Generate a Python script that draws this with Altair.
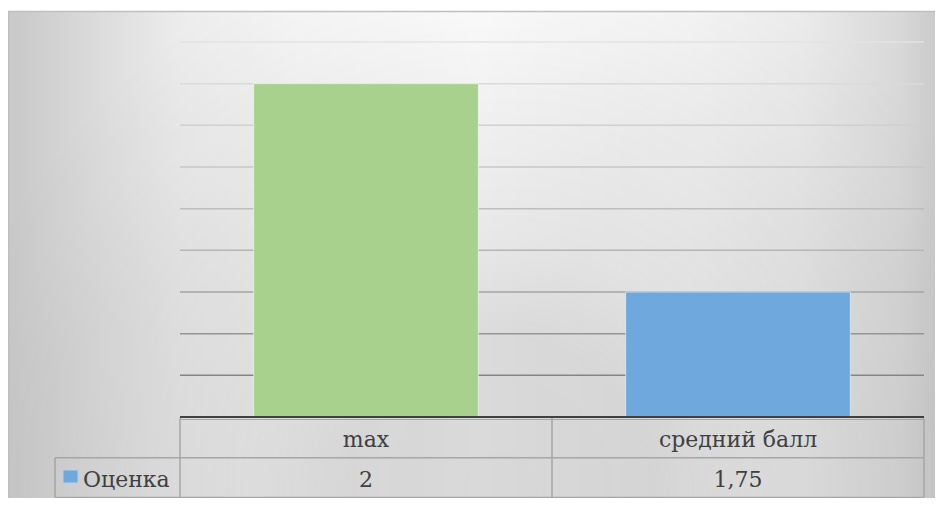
import altair as alt
import pandas as pd

# ---- data ----
CATEGORIES = ["max", "средний балл"]
VALUES = [2, 1.75]
SERIES = "Оценка"
BAR_COLORS = ["#a9d18e", "#6fa8dc"]
GRID_TICKS = [1.65, 1.7, 1.75, 1.8, 1.85, 1.9, 1.95, 2.0, 2.05]
Y_MIN, Y_MAX = 1.6, 2.05

W, H = 744, 375
FONT = "DejaVu Serif"
FS = 22
TXT = "#404040"
LINE = "#a6a6a6"

df = pd.DataFrame({"cat": CATEGORIES, "value": VALUES})
grid_df = pd.DataFrame({"tick": GRID_TICKS})
series_df = pd.DataFrame({"s": [SERIES]})
one = alt.Data(values=[{"k": 0}])

xscale = alt.Scale(domain=CATEGORIES, paddingInner=0.396, paddingOuter=0.198)
yscale = alt.Scale(domain=[Y_MIN, Y_MAX], zero=False, nice=False)

# ---- background (Excel-like gradient) ----
base_grad = {
    "gradient": "linear", "x1": 0, "y1": 0, "x2": 1, "y2": 0,
    "stops": [
        {"offset": 0.0, "color": "#c8c8c8"},
        {"offset": 0.098, "color": "#dcdcdc"},
        {"offset": 0.184, "color": "#ececec"},
        {"offset": 0.313, "color": "#f7f7f7"},
        {"offset": 0.505, "color": "#ffffff"},
        {"offset": 0.74, "color": "#f5f5f5"},
        {"offset": 0.847, "color": "#ebebeb"},
        {"offset": 0.954, "color": "#d8d8d8"},
        {"offset": 1.0, "color": "#c8c8c8"},
    ],
}
bg = alt.Chart(one).mark_rect(fill=base_grad, strokeWidth=0).encode(
    x=alt.value(-172), x2=alt.value(763), y=alt.value(-31), y2=alt.value(470)
)

over_grad = {
    "gradient": "radial",
    "x1": 0.526, "y1": 0.512, "r1": 0,
    "x2": 0.526, "y2": 0.512, "r2": 0.6,
    "stops": [
        {"offset": 0.0, "color": "rgba(0,0,0,0.15)"},
        {"offset": 0.27, "color": "rgba(0,0,0,0.14)"},
        {"offset": 0.45, "color": "rgba(0,0,0,0.09)"},
        {"offset": 0.71, "color": "rgba(0,0,0,0.05)"},
        {"offset": 0.875, "color": "rgba(0,0,0,0.02)"},
        {"offset": 1.0, "color": "rgba(0,0,0,0)"},
    ],
}
overlay = alt.Chart(one).mark_rect(fill=over_grad, strokeWidth=0).encode(
    x=alt.value(-172), x2=alt.value(763), y=alt.value(-31), y2=alt.value(904)
)

border_top = alt.Chart(one).mark_rule(color="#bfbfbf", strokeWidth=1.5).encode(
    x=alt.value(-172), x2=alt.value(763), y=alt.value(-30.5)
)
border_left = alt.Chart(one).mark_rule(color="#bfbfbf", strokeWidth=1.5).encode(
    x=alt.value(-171.5), y=alt.value(-31), y2=alt.value(470)
)

# ---- gridlines ----
grid = alt.Chart(grid_df).mark_rule(strokeWidth=1.5).encode(
    y=alt.Y("tick:Q", scale=yscale, axis=None),
    x=alt.value(0), x2=alt.value(W),
    stroke=alt.Stroke("tick:Q", scale=alt.Scale(domain=[1.65, 1.8, 2.05],
                                                range=["#858585", "#b5b5b5", "#e3e3e3"]),
                      legend=None),
)

# ---- bars ----
bars = alt.Chart(df).mark_bar(stroke="#ffffff", strokeOpacity=0.55, strokeWidth=1).encode(
    x=alt.X("cat:N", scale=xscale, axis=None),
    y=alt.Y("value:Q", scale=yscale, axis=None),
    y2=alt.datum(Y_MIN),
    fill=alt.Fill("cat:N", scale=alt.Scale(domain=CATEGORIES, range=BAR_COLORS), legend=None),
)

# ---- data table ----
def hrule(x0, x1, y, color=LINE, sw=1.5):
    return alt.Chart(one).mark_rule(color=color, strokeWidth=sw).encode(
        x=alt.value(x0), x2=alt.value(x1), y=alt.value(y))

def vrule(x, y0, y1, color=LINE, sw=1.5):
    return alt.Chart(one).mark_rule(color=color, strokeWidth=sw).encode(
        x=alt.value(x), y=alt.value(y0), y2=alt.value(y1))

table = [
    hrule(0, W, 377.5, sw=1.2),
    hrule(-125, W, 415.7),
    hrule(-125, W, 455.5),
    vrule(-125, 415.7, 455.5),
    vrule(0, 376, 455.5),
    vrule(W / 2, 376, 455.5),
    vrule(W, 376, 455.5),
    hrule(0, W, 375, color="#404040", sw=2),
]

cat_text = alt.Chart(df).mark_text(font=FONT, fontSize=FS, color=TXT, baseline="alphabetic").encode(
    x=alt.X("cat:N", scale=xscale, axis=None),
    y=alt.value(405),
    text="cat:N",
)
val_text = alt.Chart(df).transform_calculate(
    label="replace(toString(datum.value), '.', ',')"
).mark_text(font=FONT, fontSize=FS, color=TXT, baseline="alphabetic").encode(
    x=alt.X("cat:N", scale=xscale, axis=None),
    y=alt.value(445),
    text="label:N",
)

key = alt.Chart(one).mark_rect(fill=BAR_COLORS[1], stroke="#b4d0ee", strokeWidth=1).encode(
    x=alt.value(-117), x2=alt.value(-102), y=alt.value(428), y2=alt.value(441)
)
key_text = alt.Chart(series_df).mark_text(font=FONT, fontSize=FS, color=TXT,
                                          baseline="alphabetic", align="left").encode(
    x=alt.value(-97), y=alt.value(445), text="s:N"
)

chart = alt.layer(
    bg, overlay, border_top, border_left, grid, bars, *table, cat_text, val_text, key, key_text
).properties(
    width=W, height=H,
    padding={"left": 172, "top": 34, "right": 11, "bottom": 81},
    autosize=alt.AutoSizeParams(type="none"),
).configure_view(stroke=None).configure_text(font=FONT)

chart.save("out.html", embed_options={"renderer": "svg", "actions": False})
